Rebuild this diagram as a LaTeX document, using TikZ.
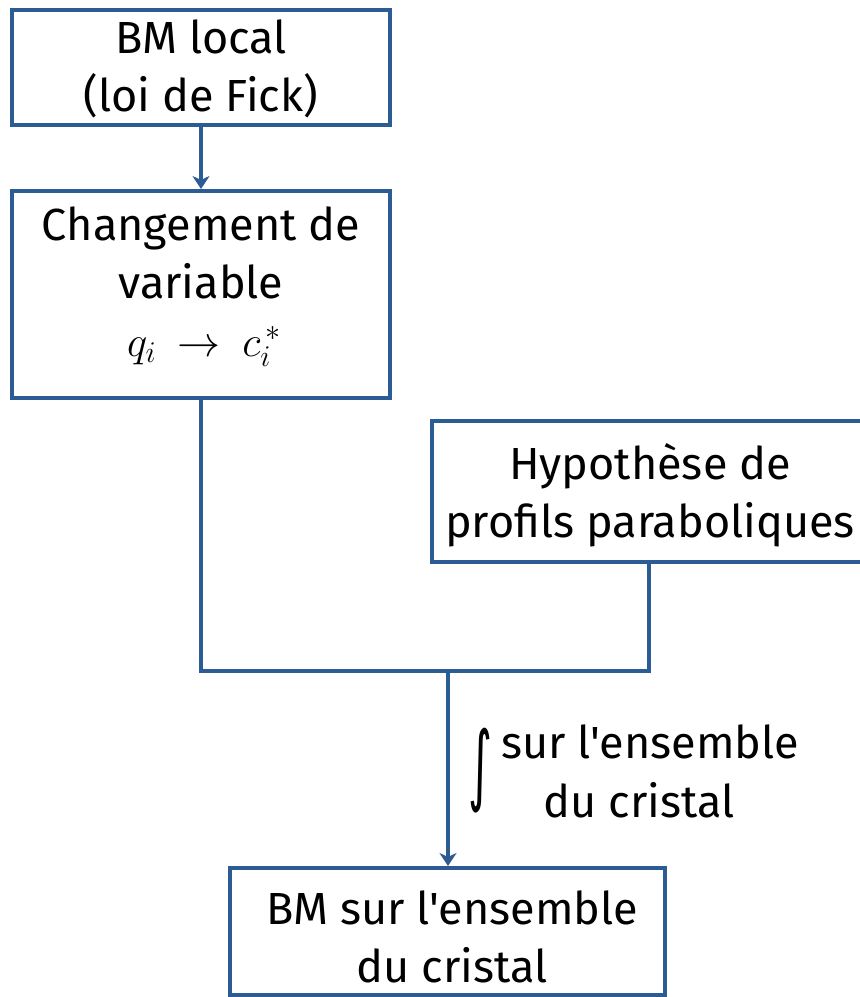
\RequirePackage{fix-cm}
\documentclass[tikz,border=0pt]{standalone}
\usepackage{graphicx}
\usepackage{fontspec}
\setmainfont{Fira Sans}[Ligatures=TeXOff]
\newfontfamily\intfont{DejaVu Sans}
\usetikzlibrary{arrows.meta}
\definecolor{lineblue}{RGB}{44,92,148}
\begin{document}
\begin{tikzpicture}[x=1pt,y=-1pt,
  box/.style={draw=lineblue,line width=4pt,rectangle,inner sep=0pt},
  txt/.style={inner sep=0pt,anchor=base,align=center,font=\fontsize{45}{58}\selectfont},
  conn/.style={draw=lineblue,line width=4pt},
  tip/.style={-{Stealth[length=13pt,width=17pt,inset=4pt]}}]
\clip (0,0) rectangle (860,997);
% boxes
\node[box,minimum width=378pt,minimum height=115pt] (b1) at (201,67.5) {};
\node[box,minimum width=378pt,minimum height=207pt] (b2) at (201,294.5) {};
\node[box,minimum width=444pt,minimum height=141pt] (b3) at (654,491.5) {};
\node[box,minimum width=435pt,minimum height=127pt] (b4) at (447.5,931.5) {};
% texts (anchor base = baseline of last line)
\node[txt] (t1) at (201,111) {BM local\\(loi de Fick)};
\node[txt] (t2) at (201,298) {Changement de\\variable};
\node[inner sep=0pt,anchor=base,font=\fontsize{43}{50}\selectfont] (t2m) at (204,356) {$q_{i}\:\rightarrow\:c_{i}^{\,*}$};
\node[txt] (t3) at (650,537) {Hypoth\`ese de\\profils paraboliques};
\node[txt] (t4) at (452,982) {BM sur l'ensemble\\du cristal};
% connectors
\coordinate (jl) at (b2.south |- 0,671);
\coordinate (jr) at (649,671);
\coordinate (jm) at (448,671);
\draw[conn,tip] (b1.south) -- (b2.north);
\draw[conn,line join=miter] (b2.south) -- (jl) -- (jr) -- (jr |- b3.south);
\draw[conn,tip] (jm) -- (jm |- b4.north);
% label
\node[inner sep=0pt] (int) at (480,770.5) {\resizebox*{24pt}{85pt}{\intfont ∫}};
\node[txt] (lab1) at (650,758) {sur l'ensemble};
\node[txt] (lab2) at (639,817) {du cristal};
\end{tikzpicture}
\end{document}
